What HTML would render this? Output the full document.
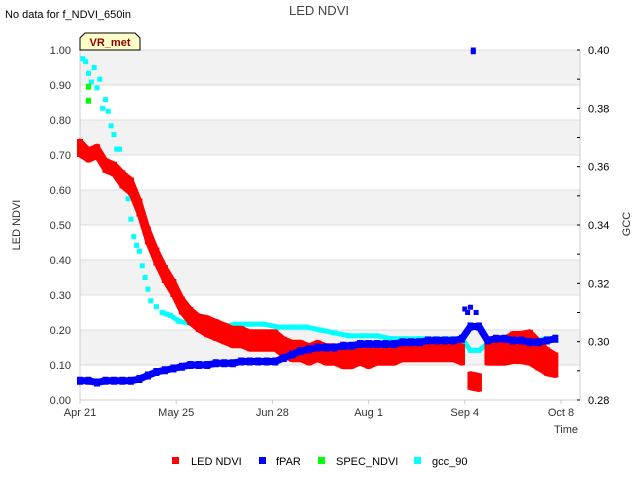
<!DOCTYPE html>
<html><head><meta charset="utf-8"><style>
body{margin:0;background:#fff;}
svg text{font-family:"Liberation Sans",sans-serif;}
</style></head><body>
<svg id="chart" width="640" height="480" xmlns="http://www.w3.org/2000/svg">
<text x="5" y="18" font-size="11" fill="#000">No data for f_NDVI_650in</text>
<text x="319" y="15" font-size="13" fill="#444" text-anchor="middle">LED NDVI</text>
<g id="bands"></g>
<g id="axes"></g>
<g id="marks"></g>
<g>
<path d="M80,50 L80,38 L85,33 L135,33 L140,38 L140,50 Z" fill="#ffffc8" stroke="#000" stroke-width="1"/>
<text x="110" y="46" font-size="11" font-weight="bold" fill="#8b0000" text-anchor="middle">VR_met</text>
</g>
<text x="20" y="225" font-size="11" fill="#333" text-anchor="middle" transform="rotate(-90 20 225)">LED NDVI</text>
<text x="630" y="224" font-size="11" fill="#333" text-anchor="middle" transform="rotate(-90 630 224)">GCC</text>
<text x="578" y="433" font-size="11" fill="#333" text-anchor="end">Time</text>
<g id="legend">
<rect x="172" y="457" width="7" height="7" fill="#f00"/><text x="191" y="465" font-size="11">LED NDVI</text>
<rect x="259" y="457" width="7" height="7" fill="#00f"/><text x="276" y="465" font-size="11">fPAR</text>
<rect x="318" y="457" width="7" height="7" fill="#0f0"/><text x="336" y="465" font-size="11">SPEC_NDVI</text>
<rect x="414" y="457" width="7" height="7" fill="#0ff"/><text x="432" y="465" font-size="11">gcc_90</text>
</g>
</svg>
<script>
const yTicks=[0,0.1,0.2,0.3,0.4,0.5,0.6,0.7,0.8,0.9,1.0];
const y2Ticks=[0.28,0.30,0.32,0.34,0.36,0.38,0.40];
const xTickDays=[0,34,68,102,136,170];
const xTickLabels=["Apr 21","May 25","Jun 28","Aug 1","Sep 4","Oct 8"];
const ndviDays=[0,3,6,9,12,15,18,21,24,27,30,33,36,39,42,45,48,51,54,57,60,63,66,69,72,75,78,81,84,87,90,93,96,99,102,105,108,111,114,117,120,123,126,129,132,135,138,141,144,147,150,153,156,159,162,165,168];
const ndviVals=[0.72,0.70,0.71,0.67,0.66,0.63,0.61,0.55,0.47,0.41,0.36,0.32,0.27,0.24,0.22,0.21,0.20,0.19,0.18,0.18,0.17,0.17,0.17,0.17,0.15,0.14,0.14,0.13,0.14,0.13,0.13,0.12,0.12,0.13,0.12,0.13,0.13,0.13,0.14,0.14,0.14,0.14,0.14,0.14,0.14,0.13,0.055,0.05,0.14,0.14,0.14,0.15,0.15,0.15,0.13,0.11,0.10];
const ndviSpread=[0.02,0.015,0.015,0.015,0.015,0.02,0.02,0.02,0.02,0.02,0.02,0.02,0.02,0.02,0.02,0.025,0.025,0.025,0.025,0.025,0.025,0.025,0.025,0.025,0.025,0.025,0.025,0.025,0.025,0.025,0.025,0.025,0.025,0.025,0.025,0.025,0.025,0.025,0.025,0.025,0.025,0.025,0.025,0.025,0.025,0.025,0.02,0.02,0.035,0.035,0.035,0.04,0.04,0.045,0.04,0.035,0.03];
const fparVals=[0.055,0.055,0.05,0.055,0.055,0.055,0.055,0.06,0.07,0.08,0.085,0.09,0.095,0.10,0.10,0.10,0.105,0.105,0.105,0.11,0.11,0.11,0.11,0.11,0.12,0.13,0.14,0.145,0.15,0.15,0.15,0.155,0.155,0.16,0.16,0.16,0.16,0.16,0.165,0.165,0.165,0.17,0.17,0.17,0.17,0.175,0.21,0.21,0.17,0.175,0.175,0.17,0.17,0.165,0.165,0.17,0.175];
const fparOutlierDays=[136,137,138,139,140,139];
const fparOutlierVals=[0.26,0.25,0.265,0.995,0.25,1.0];
const specDays=[3,3];
const specVals=[0.895,0.855];
const gccDays=[1,2,3,4,5,6,7,8,9,10,11,12,13,14,15,16,17,18,19,20,21,22,23,24,25,27,29,32,35,40,45,50,55,60,65,70,75,80,85,90,95,100,105,110,115,120,125,130,135,138,141,145,150,155,160,165,168];
const gccVals=[0.397,0.396,0.392,0.389,0.394,0.387,0.390,0.380,0.383,0.379,0.374,0.371,0.366,0.366,0.358,0.357,0.349,0.342,0.336,0.333,0.331,0.326,0.322,0.318,0.314,0.312,0.310,0.309,0.307,0.306,0.306,0.305,0.306,0.306,0.306,0.305,0.305,0.305,0.304,0.303,0.302,0.302,0.302,0.301,0.301,0.301,0.301,0.301,0.301,0.297,0.297,0.300,0.296,0.298,0.300,0.301,0.301];
const NS="http://www.w3.org/2000/svg";
const L=80,R=580,T=50,B=400;
const xS=d=>L+d*(481/170);
const yS=v=>B-v*(B-T);
const y2S=v=>B-(v-0.28)/0.12*(B-T);
function mk(tag,attrs,parent){const e=document.createElementNS(NS,tag);for(const k in attrs)e.setAttribute(k,attrs[k]);parent.appendChild(e);return e;}
const bands=document.getElementById('bands'),axes=document.getElementById('axes'),marks=document.getElementById('marks');
mk('rect',{x:L,y:T,width:R-L,height:B-T,fill:'#fff'},bands);
for(let i=0;i<yTicks.length-1;i++){if(i%2===1){const r=mk('rect',{x:L,y:yS(yTicks[i+1]),width:R-L,height:yS(yTicks[i])-yS(yTicks[i+1]),fill:'#f2f2f2'},bands);

}}
yTicks.forEach(v=>{mk('line',{x1:L,x2:R,y1:yS(v),y2:yS(v),stroke:'#ddd','stroke-width':1},bands);
const t=mk('text',{x:71,y:yS(v)+4,'font-size':11,fill:'#333','text-anchor':'end'},axes);t.textContent=v.toFixed(2);

});
mk('line',{x1:L,x2:L,y1:T,y2:B,stroke:'#ccc'},axes);
mk('line',{x1:R,x2:R,y1:T,y2:B,stroke:'#ccc'},axes);
mk('line',{x1:L,x2:R,y1:B,y2:B,stroke:'#ccc'},axes);
for(let k=0;k<=12;k++){const v=0.28+k*0.01;mk('line',{x1:R-3,x2:R,y1:y2S(v),y2:y2S(v),stroke:'#000'},axes);}
y2Ticks.forEach(v=>{const t=mk('text',{x:588,y:y2S(v)+4,'font-size':11,fill:'#000'},axes);t.textContent=v.toFixed(2);

});
xTickDays.forEach((d,i)=>{mk('line',{x1:xS(d),x2:xS(d),y1:B,y2:B+4,stroke:'#ccc'},axes);
const t=mk('text',{x:xS(d),y:416,'font-size':11,fill:'#333','text-anchor':'middle'},axes);t.textContent=xTickLabels[i];

});
// gcc
gccDays.forEach((d,i)=>{const r=mk('rect',{x:xS(d)-2.5,y:y2S(gccVals[i])-2.5,width:5,height:5,fill:'#0ff'},marks);

});
for(let i=1;i<gccDays.length;i++){if(gccDays[i]>=30){const r=mk('line',{x1:xS(gccDays[i-1]),x2:xS(gccDays[i]),y1:y2S(gccVals[i-1]),y2:y2S(gccVals[i]),stroke:'#0ff','stroke-width':5},marks);

}}
// ndvi: continuous band segments (break at the Sep 4 drop) plus point markers
function bandSeg(i0,i1){let top=[],bot=[];for(let i=i0;i<=i1;i++){top.push(xS(ndviDays[i])+','+yS(ndviVals[i]+ndviSpread[i]));bot.unshift(xS(ndviDays[i])+','+yS(ndviVals[i]-ndviSpread[i]));}
const p=mk('polygon',{points:top.concat(bot).join(' '),fill:'#f00',stroke:'#f00','stroke-width':5,'stroke-linejoin':'round'},marks);

}
bandSeg(0,45);bandSeg(46,47);bandSeg(48,ndviDays.length-1);
ndviDays.forEach((d,i)=>{const lo=ndviVals[i]-ndviSpread[i],hi=ndviVals[i]+ndviSpread[i];
const r=mk('rect',{x:xS(d)-3,y:yS(hi)-2,width:6,height:yS(lo)-yS(hi)+4,fill:'#f00'},marks);

});
// fpar
let fp=[];ndviDays.forEach((d,i)=>fp.push(xS(d)+','+yS(fparVals[i])));
const fl=mk('polyline',{points:fp.join(' '),fill:'none',stroke:'#00f','stroke-width':7},marks);


ndviDays.forEach((d,i)=>{const r=mk('rect',{x:xS(d)-3,y:yS(fparVals[i])-4,width:6,height:8,fill:'#00f'},marks);

});
fparOutlierDays.forEach((d,i)=>{const r=mk('rect',{x:xS(d)-2.5,y:yS(fparOutlierVals[i])-2.5,width:5,height:5,fill:'#00f'},marks);

});
specDays.forEach((d,i)=>{const r=mk('rect',{x:xS(d)-2.5,y:yS(specVals[i])-3,width:5,height:6,fill:'#0f0'},marks);

});
</script>
</body></html>
